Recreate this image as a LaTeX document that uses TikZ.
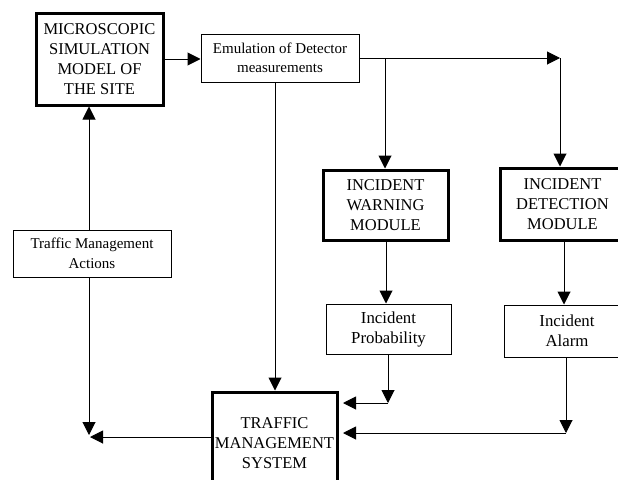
\documentclass[tikz,border=0pt]{standalone}
\usepackage{fontspec}
\setmainfont{Liberation Serif}
\usetikzlibrary{arrows.meta}
\begin{document}
\begin{tikzpicture}[x=1pt,y=-1pt,
  thickbox/.style={draw, line width=3pt, align=center, inner sep=0pt,
    font=\fontsize{16.5}{20}\selectfont},
  thinbox/.style={draw, line width=1pt, align=center, inner sep=0pt,
    font=\fontsize{15}{19.5}\selectfont},
  bigthin/.style={thinbox, font=\fontsize{16.8}{20}\selectfont},
  conn/.style={line width=1pt, -{Triangle[length=13pt,width=13pt]}},
  plain/.style={line width=1pt}]
\useasboundingbox (0,0) rectangle (618,479);
\node[thickbox, minimum width=127pt, minimum height=92pt] (micro) at (99.5,59)
  {MICROSCOPIC\\SIMULATION\\MODEL OF\\THE SITE};
\node[thinbox, minimum width=158pt, minimum height=48pt] (emul) at (280,58)
  {Emulation of Detector\\measurements};
\node[thickbox, minimum width=125pt, minimum height=70pt] (warn) at (385.5,205)
  {INCIDENT\\WARNING\\MODULE};
\node[thickbox, minimum width=125pt, minimum height=72pt] (detect) at (562.5,204)
  {INCIDENT\\DETECTION\\MODULE};
\node[bigthin, minimum width=125pt, minimum height=50pt] (prob) at (388.5,329)
  {Incident\\Probability};
\node[bigthin, minimum width=126pt, minimum height=52pt] (alarm) at (567,331)
  {Incident\\Alarm};
\node[thickbox, minimum width=125pt, minimum height=102pt] (tms) at (274.5,443)
  {TRAFFIC\\MANAGEMENT\\SYSTEM};
\node[thinbox, minimum width=158pt, minimum height=47pt] (tma) at (92,253.5)
  {Traffic Management\\Actions};
\coordinate (c1) at (560,58);
\coordinate (c2) at (388,403);
\coordinate (c3) at (343,403);
\coordinate (c4) at (566,433);
\coordinate (c5) at (343,433);
\coordinate (c6) at (90,437);
\coordinate (c7) at (89,435);
\draw[conn] (micro.east) -- (micro.east -| emul.west);
\draw[conn] (emul.east) -- (c1);
\draw[conn] (c1) -- (c1 |- detect.north);
\draw[conn] (385,58) -- (385,0 |- warn.north);
\draw[conn] (275,0 |- emul.south) -- (275,0 |- tms.north);
\draw[conn] (386,0 |- warn.south) -- (386,0 |- prob.north);
\draw[conn] (564,0 |- detect.south) -- (564,0 |- alarm.north);
\draw[conn] (c2 |- prob.south) -- (c2);
\draw[conn] (c2) -- (c3);
\draw[conn] (c4 |- alarm.south) -- (c4);
\draw[conn] (c4) -- (c5);
\draw[conn] (c6 -| tms.west) -- (c6);
\draw[conn] (c7 |- tma.south) -- (c7);
\draw[conn] (c7 |- tma.north) -- (c7 |- micro.south);
\end{tikzpicture}
\end{document}
